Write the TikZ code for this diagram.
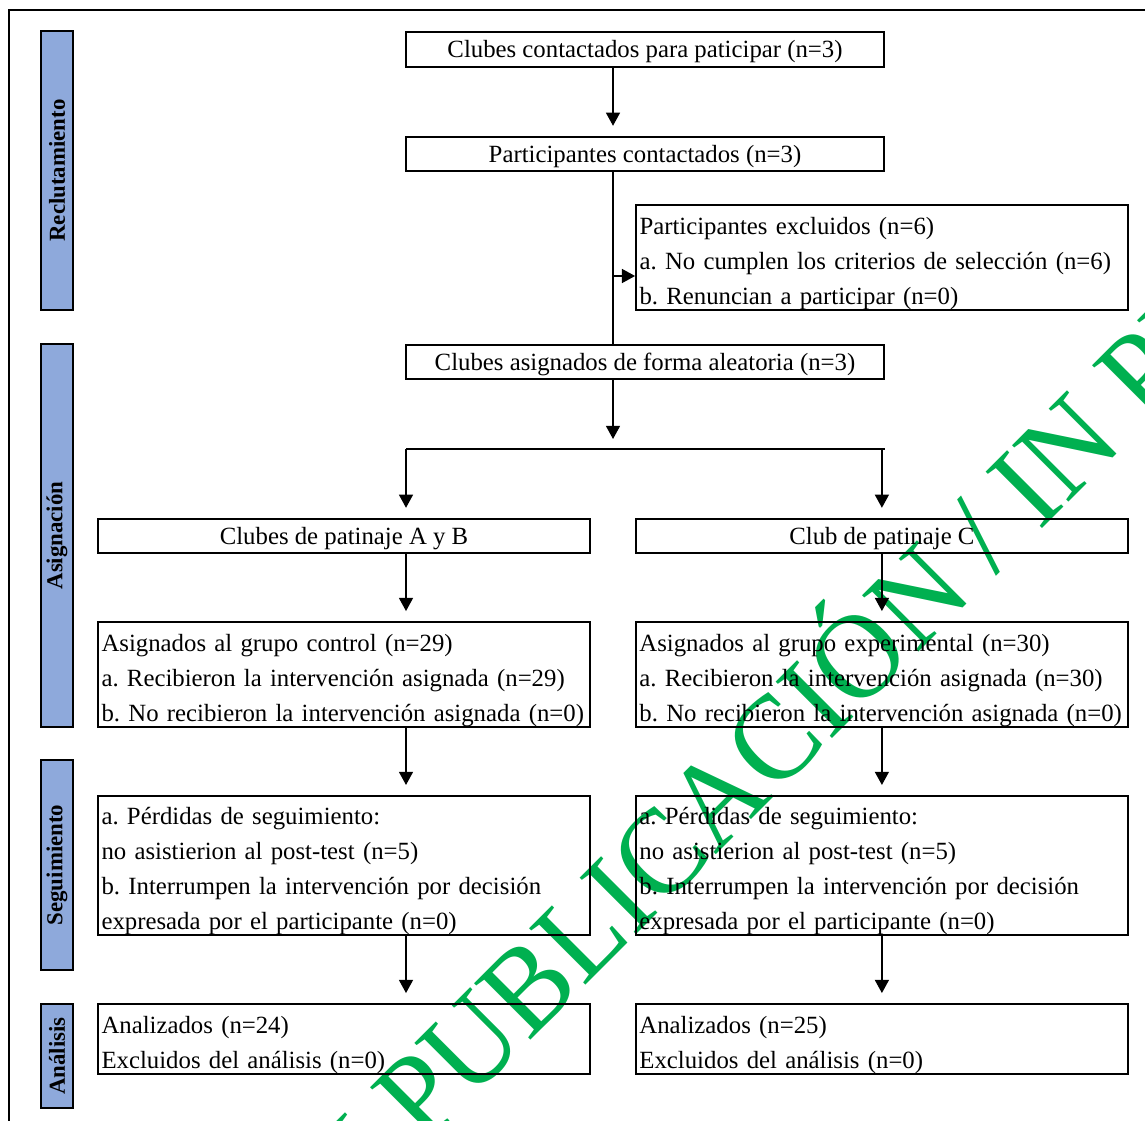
\documentclass[tikz,border=0pt]{standalone}
\usepackage{fontspec}
\setmainfont{Liberation Serif}
\usetikzlibrary{arrows.meta,positioning}

\definecolor{barblue}{RGB}{142,169,219}
\definecolor{pressgreen}{RGB}{0,176,80}

\begin{document}
\begin{tikzpicture}[x=0.02cm,y=-0.02cm,on grid,line width=0.8pt,
    >={Triangle[length=7.5pt,width=8pt]},
    flow/.style={->,shorten >=0.2cm},
    phase/.style={draw,line width=1.4pt,fill=barblue,rotate=90,inner sep=0pt,
      minimum height=0.64cm,minimum width=#1,font=\bfseries\fontsize{13}{15}\selectfont},
    frame/.style={draw,line width=1.1pt,inner sep=0pt,
      font=\frenchspacing\fontsize{14.1}{19.9}\selectfont},
    box/.style={frame,minimum width=9.56cm,minimum height=0.69cm,
      execute at begin node={\rule{0pt}{12.5pt}}},
    listbox/.style={frame,inner xsep=0.07cm,text width=9.7cm,align=left,minimum height=#1,
      execute at begin node={\rule{0pt}{16.5pt}}},
    pressmark/.style={text=pressgreen,rotate=45,yscale=1.05,anchor=base,
      inner sep=0pt,font=\fontsize{66}{66}\selectfont}]
  \useasboundingbox (0,0) rectangle (1145,1121);

  % watermark
  \begin{scope}
    \clip (0,0) rectangle (1145,1121);
    \node[pressmark] (press) at (841,730) {EN PUBLICACIÓN / IN PRESS};
  \end{scope}
  \draw[line width=1.1pt] (9,1121) -- (9,10) -- (1145,10);

  % phases
  \node[phase=5.58cm] (recl) at (57,170.5) {Reclutamiento};
  \node[phase=7.66cm] (asig) at (57,535.5) {Asignación};
  \node[phase=4.2cm]  (segu) at (57,865)   {Seguimiento};
  \node[phase=2.08cm] (anal) at (57,1056)  {Análisis};

  % main column
  \node[box] (contact) at (645,49.5) {Clubes contactados para paticipar (n=3)};
  \node[box] (partic) at (645,154) {Participantes contactados (n=3)};
  \node[listbox=2.1cm] (excl) at (882,257.5) {Participantes excluidos (n=6)\\
    a. No cumplen los criterios de selección (n=6)\\
    b. Renuncian a participar (n=0)};
  \node[box] (random) at (645,362) {Clubes asignados de forma aleatoria (n=3)};

  % groups
  \node[box,minimum width=9.84cm] (clubAB) at (344,536) {Clubes de patinaje A y B};
  \node[box,minimum width=9.84cm] (clubC) [right=10.76cm of clubAB] {Club de patinaje C};
  \node[listbox=2.1cm] (ctrl) at (344,674.5) {Asignados al grupo control (n=29)\\
    a. Recibieron la intervención asignada (n=29)\\
    b. No recibieron la intervención asignada (n=0)};
  \node[listbox=2.1cm] (expe) [right=10.76cm of ctrl] {Asignados al grupo experimental (n=30)\\
    a. Recibieron la intervención asignada (n=30)\\
    b. No recibieron la intervención asignada (n=0)};
  \node[listbox=2.78cm] (segA) at (344,865.5) {a. Pérdidas de seguimiento:\\
    no asistierion al post-test (n=5)\\
    b. Interrumpen la intervención por decisión\\
    expresada por el participante (n=0)};
  \node[listbox=2.78cm] (segC) [right=10.76cm of segA] {a. Pérdidas de seguimiento:\\
    no asistierion al post-test (n=5)\\
    b. Interrumpen la intervención por decisión\\
    expresada por el participante (n=0)};
  \node[listbox=1.4cm] (anaA) at (344,1039) {Analizados (n=24)\\
    Excluidos del análisis (n=0)};
  \node[listbox=1.4cm] (anaC) [right=10.76cm of anaA] {Analizados (n=25)\\
    Excluidos del análisis (n=0)};

  % connectors
  \coordinate (trunk) at (613,276);
  \coordinate (split) at (613,449);
  \coordinate (lcol) at (406,449);
  \draw[flow] (contact.south -| trunk) -- (partic.north -| trunk);
  \draw (partic.south -| trunk) -- (random.north -| trunk);
  \draw[->] (trunk) -- (trunk -| excl.west);
  \draw[flow] (random.south -| trunk) -- (split);
  \draw (lcol) -- (split -| random.east);
  \draw[flow] (lcol) -- (clubAB.north -| lcol);
  \draw[flow] (split -| clubC.north) -- (clubC.north);
  \draw[flow] (clubAB.south -| lcol) -- (ctrl.north -| lcol);
  \draw[flow] (clubC.south) -- (expe.north);
  \draw[flow] (ctrl.south -| lcol) -- (segA.north -| lcol);
  \draw[flow] (expe.south) -- (segC.north);
  \draw[flow] (segA.south -| lcol) -- (anaA.north -| lcol);
  \draw[flow] (segC.south) -- (anaC.north);
\end{tikzpicture}
\end{document}
